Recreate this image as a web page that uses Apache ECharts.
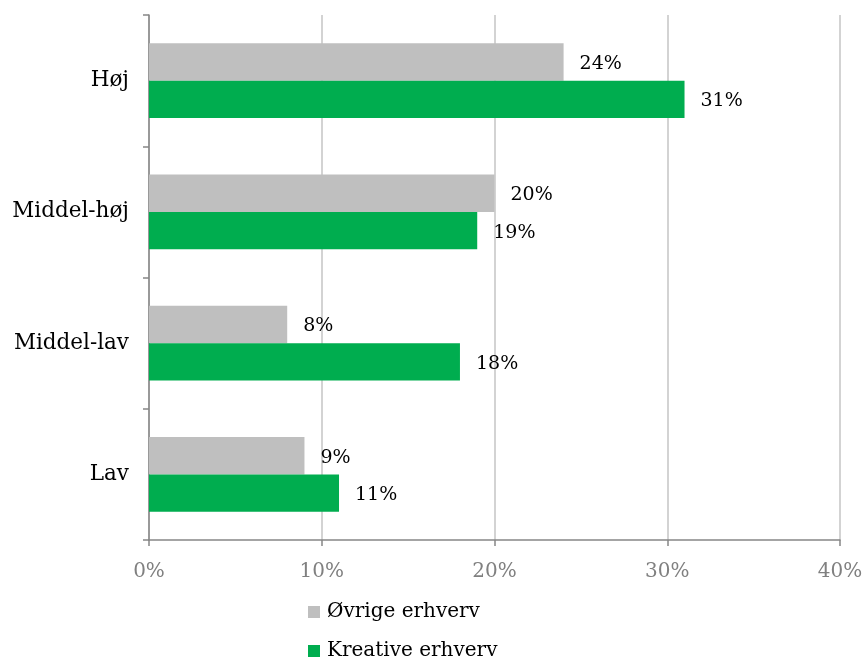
<!DOCTYPE html>
<html>
<head>
<meta charset="utf-8">
<script src="https://cdn.jsdelivr.net/npm/echarts@6/dist/echarts.min.js"></script>
<style>
html, body { margin: 0; padding: 0; background: #fff; }
#chart { width: 866px; height: 661px; }
</style>
</head>
<body>
<div id="chart"></div>
<script>
// Education level groups, bottom to top
const categories = ['Lav', 'Middel-lav', 'Middel-høj', 'Høj'];
// Share (%) per group
const ovrigeValues = [9, 8, 20, 24];
const kreativeValues = [11, 18, 19, 31];
const seriesNames = ['Øvrige erhverv', 'Kreative erhverv'];
const xTicks = { min: 0, max: 40, interval: 10 };

const FONT = 'DejaVu Serif';
const chart = echarts.init(document.getElementById('chart'));

const labelStyle = {
  show: true,
  position: 'right',
  distance: 16,
  offset: [0, 2],
  color: '#000',
  fontFamily: FONT,
  fontSize: 19,
  formatter: p => p.value + '%'
};

chart.setOption({
  animation: false,
  textStyle: { fontFamily: FONT },
  grid: { left: 149, right: 26, top: 15, bottom: 121, containLabel: false },
  legend: {
    orient: 'vertical',
    left: 308,
    top: 602,
    padding: 0,
    icon: 'rect',
    itemWidth: 12,
    itemHeight: 12,
    itemGap: 19,
    data: seriesNames,
    textStyle: { fontFamily: FONT, fontSize: 20, color: '#000', padding: [0, 0, 0, 2] }
  },
  xAxis: {
    type: 'value',
    min: xTicks.min,
    max: xTicks.max,
    interval: xTicks.interval,
    axisLine: { show: true, lineStyle: { color: '#868686', width: 1.5 } },
    axisTick: { show: true, length: 6, lineStyle: { color: '#868686', width: 1.5 } },
    axisLabel: { color: '#808080', fontFamily: FONT, fontSize: 20, margin: 22, formatter: '{value}%' },
    splitLine: { show: true, lineStyle: { color: '#C4C4C4', width: 1.5 } }
  },
  yAxis: {
    type: 'category',
    data: categories,
    axisLine: { show: true, lineStyle: { color: '#868686', width: 1.5 } },
    axisTick: { show: true, length: 6, lineStyle: { color: '#868686', width: 1.5 } },
    axisLabel: { color: '#000', fontFamily: FONT, fontSize: 21.5, margin: 20 }
  },
  series: [
    {
      name: seriesNames[0],
      type: 'bar',
      data: ovrigeValues,
      barGap: '0%',
      barCategoryGap: '43%',
      itemStyle: { color: '#BFBFBF' },
      label: labelStyle
    },
    {
      name: seriesNames[1],
      type: 'bar',
      data: kreativeValues,
      barGap: '0%',
      barCategoryGap: '43%',
      itemStyle: { color: '#00AD4F' },
      label: labelStyle
    }
  ]
});
</script>
</body>
</html>
